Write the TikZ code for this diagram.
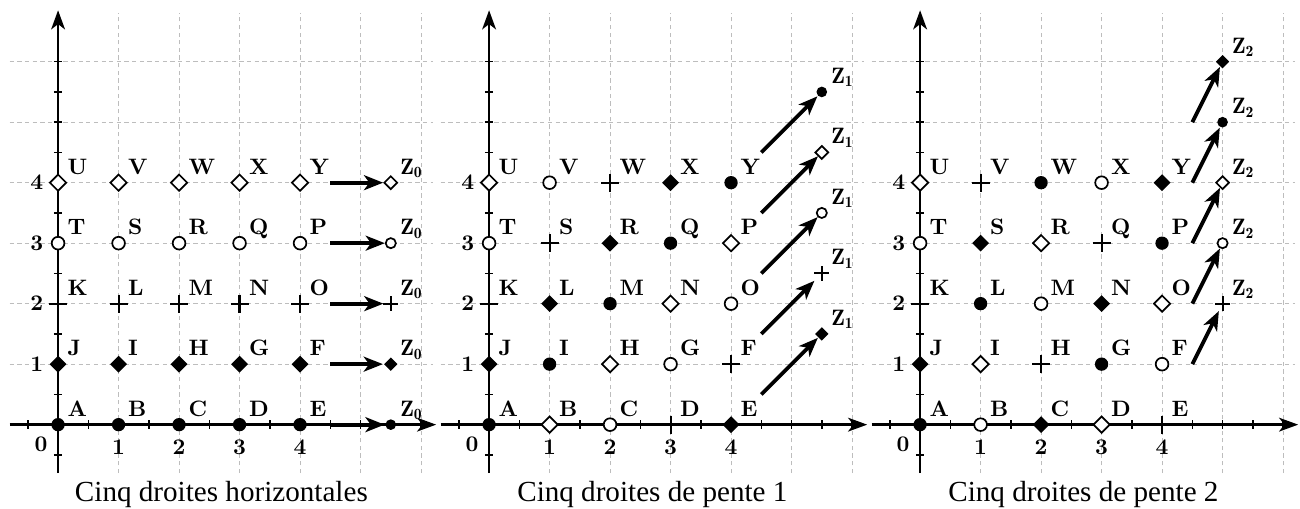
\documentclass[tikz,border=0pt]{standalone}
\usepackage{fontspec}
\usepackage{amsmath}
\usetikzlibrary{arrows.meta, shapes.geometric, positioning, calc}
\newfontfamily\legende{Liberation Serif}

\tikzset{
  gris/.style={draw=grille, dash pattern=on 2pt off 1.6pt, line width=0.45pt},
  axe/.style={line width=1.1pt, -{Stealth[length=9pt, width=6.5pt, inset=2.5pt]}},
  grad/.style={line width=0.7pt},
  fleche/.style={line width=1.8pt, -{Stealth[length=9pt, width=7pt, inset=2.5pt]}},
  lbl/.style={anchor=base west, inner sep=0pt, font=\fontsize{10.5}{12}\selectfont\bfseries},
  num/.style={inner sep=0pt, font=\fontsize{10.5}{12}\selectfont\bfseries},
  capt/.style={anchor=base, inner sep=0pt, font=\legende\fontsize{13.7}{16}\selectfont},
  pt/.style={inner sep=0pt, line width=0.8pt},
  croix/.style={line width=1pt},
  m0/.style={pt, circle, fill=black, minimum size=0.22cm*#1}, m0/.default=1,
  m1/.style={pt, diamond, fill=black, minimum size=0.29cm*#1}, m1/.default=1,
  m2/.style={pt, minimum size=0.27cm*#1}, m2/.default=1,
  m3/.style={pt, circle, draw, fill=white, minimum size=0.21cm*#1}, m3/.default=1,
  m4/.style={pt, diamond, draw, fill=white, minimum size=0.28cm*#1}, m4/.default=1,
}
% le symbole + : deux traits a travers le noeud
\newcommand{\plusde}[1]{\draw[croix] (#1.north) -- (#1.south) (#1.west) -- (#1.east);}

\begin{document}
\begin{tikzpicture}
% --- TROIS FIGURES: GRILLE, AXES, 25 POINTS ET LEURS DROITES ---
\definecolor{grille}{HTML}{BDBDBD}
\useasboundingbox (-0.96,-1.39) rectangle (20.53,7.02);

\foreach \k/\zx/\off/\titre in {0/5.5/0/{Cinq droites horizontales},
    1/5.5/0.5/{Cinq droites de pente 1}, 2/5/0/{Cinq droites de pente 2}}{
\begin{scope}[xshift=\k*7.125cm]
% COUCHE 1: grille pointillee
\draw[gris] (-0.8,-0.8) grid (6.2,6.8);

% COUCHE 2: axes et graduations
\coordinate (xa\k) at (-0.8,0);
\coordinate (xb\k) at (6.25,0);
\coordinate (ya\k) at (0,-0.8);
\coordinate (yb\k) at (0,6.85);
\draw[axe] (xa\k) -- (xb\k);
\draw[axe] (ya\k) -- (yb\k);
\foreach \t in {-0.5,0,...,6} {
  \draw[grad] (\t,-0.07) -- (\t,0.07);
  \draw[grad] (-0.07,\t) -- (0.07,\t);
}
\node[num, anchor=north east] (o\k) at (-0.17,-0.2) {0};
\foreach \i in {1,...,4} {
  \node[num, anchor=north] (nx\k\i) at (\i,-0.24) {\i};
  \node[num, anchor=east] (ny\k\i) at (-0.24,\i) {\i};
}

% COUCHE 3: les 25 points (symbole selon la droite)
\foreach \y/\ligne in {0/{A,B,C,D,E},1/{J,I,H,G,F},2/{K,L,M,N,O},3/{T,S,R,Q,P},4/{U,V,W,X,Y}} {
  \foreach \n [count=\x from 0] in \ligne {
    \pgfmathtruncatemacro\c{mod(\y-\k*\x+20,5)}
    \node[m\c] (p\k\n) at (\x,\y) {};
    \ifnum\c=2 \plusde{p\k\n}\fi
    \node[lbl] (l\k\n) at (\x+0.15,\y+0.14) {\n};
  }
}

% COUCHE 4: fleches vers les points Z
\foreach \u in {0,...,4} {
  \pgfmathtruncatemacro\t{\u+\k}
  \pgfmathtruncatemacro\c{mod(\t,5)}
  \coordinate (d\k\u) at (4.5,{\t+\off-\k*(\zx-4.5)});
  \node[m\c=0.8] (z\k\u) at (\zx,{\t+\off}) {};
  \ifnum\c=2 \plusde{z\k\u}\fi
  \node[lbl] (lz\k\u) at ({\zx+0.15},{\t+\off+0.14}) {$\mathbf{Z_{\k}}$};
  \draw[fleche] (d\k\u) -- (z\k\u);
}

% COUCHE 5: legende
\node[capt] (t\k) at (2.7,-1.27) {\titre};
\end{scope}
}
\end{tikzpicture}
\end{document}
